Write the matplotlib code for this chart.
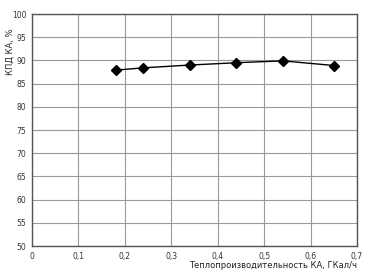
import matplotlib
matplotlib.use("Agg")
import matplotlib.pyplot as plt
from matplotlib.ticker import FuncFormatter

# данные с графика
power = [0.18, 0.24, 0.34, 0.44, 0.54, 0.65]
kpd = [87.9, 88.4, 89.0, 89.5, 89.9, 88.9]

fig = plt.figure(figsize=(3.78, 2.74), dpi=100)
ax = fig.add_axes([32 / 378, 28 / 274, 325 / 378, 232 / 274])

ax.plot(power, kpd, color='black', linewidth=1.0, marker='D', markersize=5.5)

ax.set_xlim(0, 0.7)
ax.set_ylim(50, 100)
ax.set_xticks([i / 10 for i in range(8)])
ax.set_yticks(range(50, 101, 5))
ax.xaxis.set_major_formatter(FuncFormatter(lambda v, p: ("%g" % round(v, 1)).replace('.', ',')))
ax.tick_params(axis='both', labelsize=5.5, length=0, pad=4, colors='#333333')
ax.grid(True, color='#999999', linewidth=0.8)
for s in ax.spines.values():
    s.set_color('#555555')
    s.set_linewidth(1.0)

fig.text(357 / 378, 8 / 274, "Теплопроизводительность КА, ГКал/ч", ha='right', va='center',
         fontsize=6, color='#222222')
fig.text(10 / 378, 1 - 52 / 274, "КПД КА, %", rotation=90, ha='center', va='center',
         fontsize=6, color='#222222')

fig.savefig("out.png", dpi=100)
